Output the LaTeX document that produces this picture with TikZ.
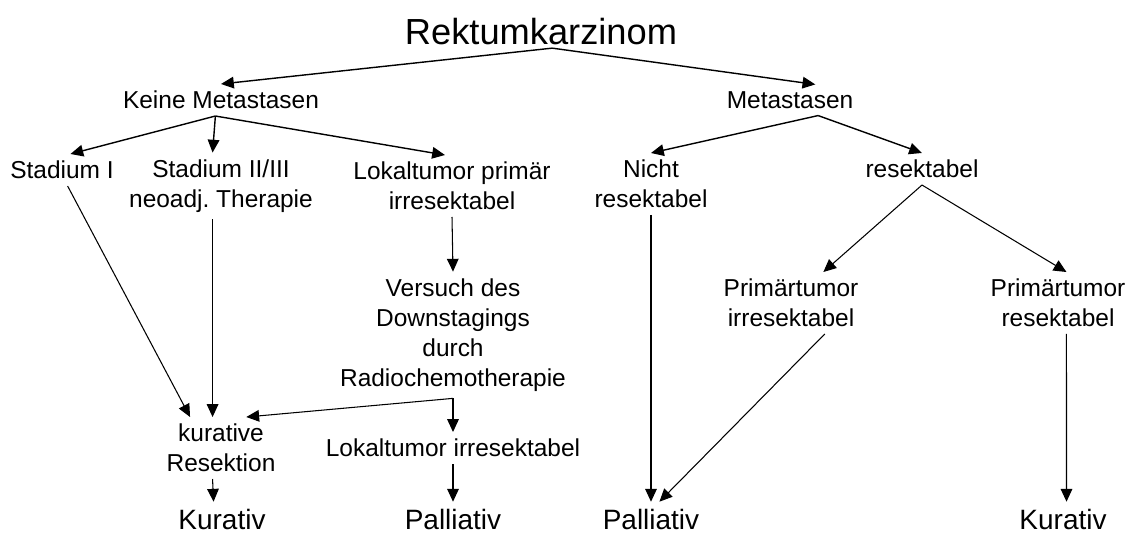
\documentclass[tikz,border=0pt]{standalone}
\usepackage{fontspec}
\setmainfont{Liberation Sans}
\usetikzlibrary{arrows.meta}
\frenchspacing

\begin{document}
\begin{tikzpicture}[x=0.025cm, y=-0.025cm,
    lbl/.style={align=center, inner sep=0pt, outer sep=5pt, font=\fontsize{17.4}{21.3}\selectfont},
    endlbl/.style={inner sep=0pt, outer sep=5pt, font=\fontsize{19.9}{24}\selectfont},
    arr/.style={-{Triangle[length=0.32cm, width=0.29cm]}, line width=1pt},
    thinarr/.style={arr, line width=0.75pt}]
    \useasboundingbox (0,0) rectangle (1129,533);

    % top level
    \node[inner sep=0pt, outer sep=2pt, font=\fontsize{25.8}{30}\selectfont] (root) at (541,32) {Rektumkarzinom};
    \node[lbl] (keine) at (221,100) {Keine Metastasen};
    \node[lbl] (meta) at (790,100) {Metastasen};

    % left branch
    \node[lbl] (st1) at (62,170) {Stadium I};
    \node[lbl] (st23) at (221,186) {Stadium II/III\\neoadj. Therapie};
    \node[lbl] (lokal) at (452,186) {Lokaltumor primär\\irresektabel};
    \node[lbl] (versuch) at (453,335) {Versuch des\\Downstagings\\durch\\Radiochemotherapie};
    \node[lbl] (kurres) at (221,448) {kurative\\Resektion};
    \node[lbl] (lokirr) at (453,448) {Lokaltumor irresektabel};
    \node[endlbl] (kur1) at (222,519) {Kurativ};
    \node[endlbl] (pal1) at (453,519) {Palliativ};

    % right branch
    \node[lbl] (nicht) at (651,184) {Nicht\\resektabel};
    \node[lbl] (res) at (922,169) {resektabel};
    \node[lbl] (pirr) at (791,303) {Primärtumor\\irresektabel};
    \node[lbl] (pres) at (1058,303) {Primärtumor\\resektabel};
    \node[endlbl] (pal2) at (651,519) {Palliativ};
    \node[endlbl] (kur2) at (1063,519) {Kurativ};

    \draw[arr] ([xshift=8pt]root.south) -- (keine.north);
    \draw[arr] ([xshift=8pt]root.south) -- ([xshift=18pt]meta.north);

    \draw[arr] ([xshift=-4pt]keine.south) -- ([xshift=6pt]st1.north);
    \draw[arr] ([xshift=-4pt]keine.south) -- ([xshift=-6pt]st23.north);
    \draw[arr] ([xshift=-4pt]keine.south) -- ([xshift=-5pt]lokal.north);
    \draw[arr] ([xshift=20pt]meta.south) -- (nicht.north);
    \draw[arr] ([xshift=20pt]meta.south) -- (res.north);

    \draw[thinarr] ([xshift=4pt]st1.south) -- ([xshift=-22pt]kurres.north);
    \draw[thinarr] ([xshift=-6pt]st23.south) -- ([xshift=-6pt]kurres.north);
    \draw[thinarr] (lokal.south) -- (versuch.north);
    \draw[thinarr] (versuch.south) -- ([xshift=18pt]kurres.north);
    \draw[thinarr] (versuch.south) -- (lokirr.north);
    \draw[thinarr] ([xshift=-6pt]kurres.south) -- ([xshift=-6pt]kur1.north);
    \draw[thinarr] (lokirr.south) -- (pal1.north);

    \draw[thinarr] (res.south) -- ([xshift=23pt]pirr.north);
    \draw[thinarr] (res.south) -- ([xshift=6pt]pres.north);
    \draw[thinarr] (nicht.south) -- (pal2.north);
    \draw[thinarr] ([xshift=24pt]pirr.south) -- ([xshift=6pt]pal2.north);
    \draw[thinarr] ([xshift=6pt]pres.south) -- ([xshift=2.5pt]kur2.north);
\end{tikzpicture}
\end{document}
